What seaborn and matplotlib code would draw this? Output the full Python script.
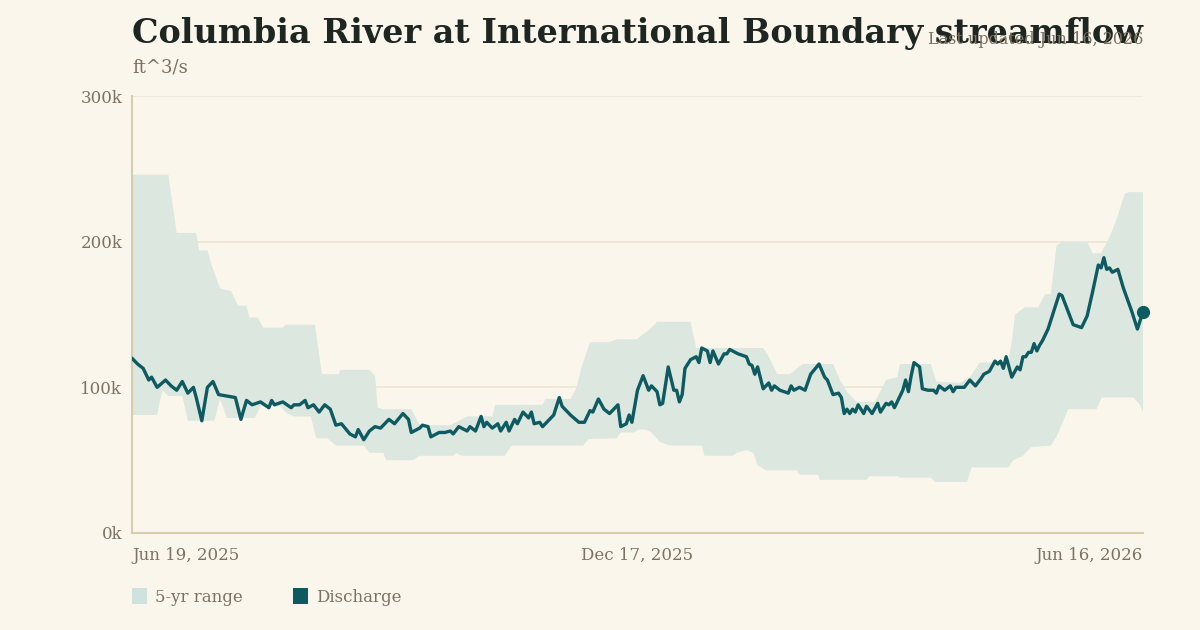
import numpy as np
import pandas as pd
import seaborn as sns
import matplotlib.pyplot as plt
from matplotlib.patches import Patch

# ---- data (days after Jun 19, 2025, values in thousand ft^3/s) ----
start = pd.Timestamp("2025-06-19")

flow_day = [0, 2, 4, 6, 7, 9, 12, 14, 16, 18, 20, 22, 23, 25, 27, 29, 31, 34, 37, 39,
            41, 43, 46, 49, 50, 51, 54, 57, 58, 60, 62, 63, 65, 67, 69, 71, 73, 75, 78, 80,
            81, 83, 85, 87, 89, 92, 94, 97, 99, 100, 103, 104, 106, 107, 110, 112, 114, 115, 117, 119,
            120, 121, 123, 125, 126, 127, 129, 131, 132, 134, 135, 137, 138, 140, 142, 143, 144, 146, 147, 150,
            151, 153, 154, 157, 160, 162, 164, 165, 167, 169, 171, 174, 175, 177, 178, 179, 181, 183, 185, 186,
            188, 189, 190, 192, 194, 195, 196, 197, 198, 200, 202, 203, 204, 206, 207, 208, 210, 212, 213, 214,
            217, 220, 221, 222, 223, 224, 226, 228, 229, 230, 232, 235, 236, 237, 239, 241, 243, 246, 248, 249,
            251, 253, 254, 255, 256, 257, 258, 259, 260, 262, 263, 265, 267, 268, 270, 271, 272, 273, 274, 276,
            277, 278, 279, 280, 282, 283, 285, 287, 288, 289, 291, 293, 294, 295, 298, 300, 302, 304, 305, 307,
            309, 310, 311, 312, 313, 315, 317, 318, 319, 320, 321, 322, 323, 324, 325, 326, 328, 330, 332, 333,
            335, 337, 340, 342, 344, 346, 347, 348, 349, 350, 351, 353, 355, 358, 360, 362]
flow_k = [120, 116, 113, 105, 107, 100, 105, 101, 98, 104, 96, 100, 93, 77, 100, 104, 95, 94, 93, 78,
          91, 88, 90, 86, 91, 88, 90, 86, 88, 88, 91, 86, 88, 83, 88, 85, 74, 75, 68, 66,
          71, 64, 70, 73, 72, 78, 75, 82, 78, 69, 72, 74, 73, 66, 69, 69, 70, 68, 73, 71,
          70, 73, 70, 80, 73, 76, 72, 75, 70, 76, 70, 78, 75, 83, 79, 83, 75, 76, 73, 79,
          81, 93, 87, 81, 76, 76, 84, 83, 92, 85, 82, 88, 73, 75, 81, 76, 98, 108, 98, 101,
          97, 88, 89, 114, 98, 98, 90, 95, 113, 119, 121, 117, 127, 125, 117, 125, 116, 123, 123, 126,
          123, 121, 116, 115, 109, 114, 99, 103, 98, 101, 98, 96, 101, 98, 100, 98, 109, 116, 107, 105,
          95, 96, 93, 82, 85, 82, 85, 83, 88, 82, 87, 82, 89, 83, 89, 88, 90, 86, 90, 98,
          105, 97, 108, 117, 114, 99, 98, 98, 96, 101, 98, 101, 97, 100, 100, 105, 101, 106, 109, 111,
          118, 116, 118, 113, 121, 107, 114, 112, 121, 121, 124, 124, 130, 125, 129, 132, 140, 152, 164, 163,
          153, 143, 141, 149, 166, 184, 182, 189, 181, 182, 179, 181, 168, 152, 140, 152]

hi_day = [0, 13, 16, 23, 24, 27, 28.5, 31.5, 35.5, 38, 41, 42, 45, 47, 54, 55, 65.5, 68, 74, 74.5,
          85, 87, 88, 90, 100, 103, 114, 120, 129, 130, 147, 148, 157, 159, 161, 164, 171, 173.5, 180.7, 185.5,
          188, 200, 202, 226, 228, 231, 235.6, 240, 251, 253.5, 256, 259.5, 266, 270, 274, 275, 286, 288, 296.5, 300,
          303.6, 313.6, 315, 316.2, 319.7, 324.5, 327, 329, 331, 333, 342, 344, 347, 349.7, 352.5, 355.5, 357, 362]
hi_k = [246, 246, 206, 206, 194, 194, 184, 168, 166, 156, 156, 148, 148, 141, 141, 143, 143, 109, 109, 112,
        112, 108, 86, 85, 85, 74, 74, 80, 80, 88, 88, 92, 92, 99, 114, 131, 131, 133, 133, 140,
        145, 145, 127, 127, 121, 109, 109, 116, 116, 105, 97, 90, 90, 105, 107, 116, 116, 104, 103, 107,
        117, 117, 131, 150, 155, 155, 164, 164, 197, 200, 200, 192, 192, 202, 215, 233, 234, 234]

lo_day = [0, 9, 10, 11, 13, 18, 20, 29.5, 31.5, 34, 44, 46, 53, 55.5, 58, 64, 66, 70, 73, 83,
          85, 90, 91, 100.7, 103, 115, 116, 118, 133.5, 136, 142.5, 161.5, 163.5, 173.5, 175, 179.7, 181.3, 184, 186, 189,
          192.6, 204, 205, 215, 216.5, 220, 222.5, 224, 227, 238, 239, 245.7, 246.3, 263, 264, 274, 275, 286, 287.5, 299,
          300.6, 313.8, 315.5, 319, 322, 329, 331, 333, 335.2, 345.4, 347.2, 358.5, 361, 362]
lo_k = [81, 81, 91, 98, 94, 94, 77, 77, 92, 79, 79, 87, 87, 82, 80, 80, 65, 65, 60, 60,
        55, 55, 50, 50, 53, 53, 55, 53, 53, 60, 60, 60, 64.5, 65, 69, 69, 71, 71, 69, 62.5,
        60, 60, 53, 53, 55, 57, 55, 46.5, 43, 43, 40, 40, 36.5, 36.5, 39, 39, 38, 38, 35, 35,
        45, 45, 50, 53, 59, 60, 66, 75, 85, 85, 93, 93, 88, 83]

tick_days = [0, 181, 362]
tick_labels = ["Jun 19, 2025", "Dec 17, 2025", "Jun 16, 2026"]

# ---- style ----
BG = "#faf6ec"
LINE = "#0e5a61"
BAND = "#dce7df"
GREY = "#7b7263"
sns.set_theme(style="white", rc={"axes.facecolor": BG, "figure.facecolor": BG})
plt.rcParams["font.family"] = ["DejaVu Serif", "DejaVu Sans"]

df = pd.DataFrame({"date": start + pd.to_timedelta(flow_day, unit="D"),
                   "flow": np.array(flow_k) * 1000})
hi_dates = start + pd.to_timedelta(hi_day, unit="D")
lo_dates = start + pd.to_timedelta(lo_day, unit="D")

fig = plt.figure(figsize=(12, 6.3), dpi=100)
ax = fig.add_axes([0.11, 0.154, 0.8425, 0.6936])

# 5-yr range band as a polygon: upper edge forward, lower edge back
poly_x = list(hi_dates) + list(lo_dates[::-1])
poly_y = list(np.array(hi_k) * 1000) + list(np.array(lo_k[::-1]) * 1000)
ax.fill(poly_x, poly_y, color=BAND, lw=0, zorder=1)

sns.lineplot(data=df, x="date", y="flow", ax=ax, color=LINE, lw=2.4, zorder=3)
last = df.iloc[-1]
ax.plot([last["date"]], [last["flow"]], "o", color=LINE, ms=8.5, zorder=4, clip_on=False)

ax.set_xlim(start, start + pd.Timedelta(days=362))
ax.set_ylim(0, 300000)
ax.set_yticks([0, 100000, 200000, 300000])
ax.set_yticklabels(["0k", "100k", "200k", "300k"])
ax.set_xticks(start + pd.to_timedelta(tick_days, unit="D"))
ax.set_xticklabels(tick_labels)
for lab, ha in zip(ax.get_xticklabels(), ["left", "center", "right"]):
    lab.set_ha(ha)
ax.set_xlabel("")
ax.set_ylabel("")
ax.tick_params(axis="both", length=0, labelsize=12, labelcolor=GREY)
ax.tick_params(axis="x", pad=10)
ax.tick_params(axis="y", pad=7)
ax.grid(axis="y", color="#ede5d4", lw=1.2, zorder=0)
ax.grid(axis="x", visible=False)
for s in ["top", "right"]:
    ax.spines[s].set_visible(False)
for s in ["left", "bottom"]:
    ax.spines[s].set_color("#d8ccae")
    ax.spines[s].set_linewidth(1.5)

fig.text(132 / 1200, 1 - 34 / 630, "Columbia River at International Boundary streamflow",
         fontsize=24, fontweight="bold", color="#1e2622", va="center", ha="left")
fig.text(1143 / 1200, 1 - 40 / 630, "Last updated Jun 16, 2026", fontsize=11.5,
         color=GREY, ha="right", va="center")
fig.text(132 / 1200, 1 - 68 / 630, "ft^3/s", fontsize=13, color=GREY, ha="left", va="center")

handles = [Patch(facecolor="#cfe2dd", edgecolor="none", label="5-yr range"),
           Patch(facecolor=LINE, edgecolor="none", label="Discharge")]
fig.legend(handles=handles, loc="center left", bbox_to_anchor=(132 / 1200, 1 - 597 / 630),
           ncol=2, frameon=False, fontsize=12, labelcolor=GREY, handlelength=0.9,
           handleheight=1.1, handletextpad=0.5, columnspacing=3.0,
           borderpad=0, borderaxespad=0)

fig.savefig("out.png", dpi=100, facecolor=BG)
